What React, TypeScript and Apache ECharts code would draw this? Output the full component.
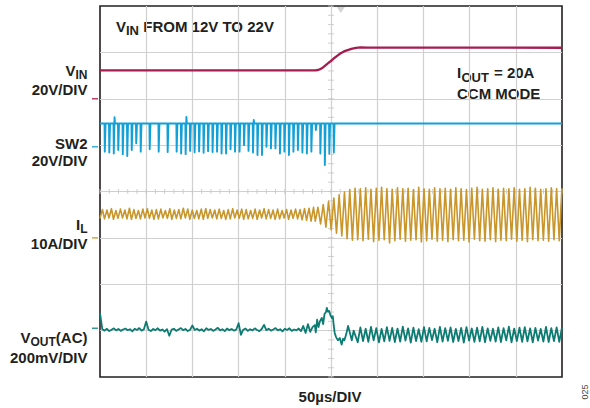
import React, { useEffect, useRef } from "react";
import * as echarts from "echarts";

// Time base: 50 µs/div, 10 divisions
const TIME_MAX = 500;
const TIME_DIV = 50;
const V_DIVS = 8;

// Channel colours
const C_VIN = "#A51C4E";
const C_SW2 = "#12A0D7";
const C_IL = "#C8962B";
const C_VOUT = "#0C7C73";
const INK = "#231F20";
const GRID_GRAY = "#d0d0d0";

// VIN (V): input step from 12 V to 22 V
const VIN_T = [0, 233, 236, 239, 242, 245, 248, 251, 254, 257, 260, 264, 268, 272, 277, 282, 290, 500];
const VIN_V = [12.2, 12.2, 12.4, 12.9, 13.7, 14.7, 15.7, 16.7, 17.7, 18.6, 19.5, 20.4, 21.0, 21.5, 21.9, 22.15, 22.05, 22.0];

// SW2 (V): high level and the low dip of each switching cycle (null = no dip captured)
const SW2_HIGH = 10.0;
const SW2_T0 = 5.2;
const SW2_PERIOD = 4.86;
const SW2_DIPS: (number | null)[] = [
  -2.1, -2.5, -2.9, -1.4, -3.2, -4.0, -1.4, 1.5, -2.1, null,
  -1.1, null, -2.1, null, -2.3, null, -2.1, -2.9, -3.2, -1.8,
  -2.4, -2.0, -2.6, -1.9, -2.3, -2.1, -2.9, -2.9, -1.1, -2.1,
  -2.1, 0.7, -1.8, -2.5, -3.6, -3.6, 0.0, -0.7, -0.7, -2.9,
  -2.1, -3.6, -2.1, -1.4, -2.5, -2.9, -2.1, 7.2, -2.9, -7.9,
  -2.9, -2.5,
];
// overshoots after a few edges: [cycle index, V]
const SW2_OVERSHOOT: [number, number][] = [[2, 12.7], [18, 12.9], [33, 11.6]];

// IL (A): before the step (boost-side switching)
const IL_PRE_T0 = 0;
const IL_PRE_PERIOD = 4.86;
const IL_PRE_PEAK = [
  6.1, 6.0, 6.3, 5.9, 6.2, 6.0, 6.4, 6.1, 5.9, 6.2, 6.3, 6.0, 6.1, 6.2, 5.9, 6.3,
  6.0, 6.1, 6.4, 6.2, 6.0, 5.9, 6.2, 6.3, 6.1, 6.0, 6.2, 5.9, 6.1, 6.3, 6.0, 6.2,
  6.1, 5.9, 6.2, 6.0, 6.3, 6.1, 6.0, 6.2, 5.9, 6.1, 6.0, 6.2, 6.1, 6.3, 6.4, 6.6,
];
const IL_PRE_VALLEY = [
  4.2, 4.1, 4.3, 4.0, 4.2, 4.3, 4.1, 4.0, 4.2, 4.1, 4.3, 4.2, 4.0, 4.1, 4.3, 4.2,
  4.0, 4.2, 4.1, 4.3, 4.0, 4.2, 4.1, 4.0, 4.2, 4.3, 4.1, 4.2, 4.0, 4.1, 4.3, 4.2,
  4.0, 4.1, 4.2, 4.0, 4.3, 4.1, 4.2, 4.0, 4.1, 4.3, 4.0, 4.2, 4.1, 3.9, 3.8, 3.6,
];
// IL (A): after the step (buck-side switching)
const POST_T0 = 233;
const POST_PERIOD = 5.74;
const IL_POST_PEAK = [
  6.6, 7.2, 7.9, 8.6, 9.3, 9.9, 10.4, 10.7,
  10.6, 10.8, 10.5, 10.7, 10.9, 10.6, 10.5, 10.8, 10.6, 10.7, 10.4, 10.9, 10.6,
  10.5, 10.8, 10.6, 10.7, 10.5, 10.8, 10.6, 10.4, 10.7, 10.9, 10.5, 10.6, 10.8,
  10.5, 10.7, 10.6, 10.8, 10.5, 10.6, 10.9, 10.7, 10.5, 10.6, 10.8, 10.6, 10.7,
];
const IL_POST_VALLEY = [
  3.6, 3.0, 2.3, 1.7, 1.0, 0.4, -0.2, -0.5,
  -0.4, -0.6, -0.3, -0.8, -0.5, -0.4, -1.1, -0.6, -0.3, -0.7, -0.5, -0.4, -0.9,
  -0.6, -0.3, -0.7, -0.5, -0.8, -0.4, -0.6, -0.5, -0.9, -0.3, -0.6, -0.7, -0.4,
  -0.8, -0.5, -0.6, -0.3, -0.7, -0.5, -0.8, -0.4, -0.6, -0.5, -0.7, -0.4, -0.6,
];

// VOUT (mV, AC coupled): samples every 2.5 µs before the step
const VOUT_PRE_DT = 2.5;
const VOUT_PRE = [
  65, -4, -10, -2, -12, -6, 0, -9, -3, -11, -5, -1, -8, -4, -13, -2, -7, 1, -10, -4,
  29, -6, -12, -3, -8, 0, -10, -5, -14, -4, -32, -6, -2, -11, -5, 1, -8, -3, -12, -6,
  12, -7, -2, -10, -4, -13, 0, -7, -3, -11, -5, 2, -9, -4, -12, -1, -8, -3, -10, -5,
  22, -28, -6, -1, -11, -4, -9, 0, -7, -12, -3, 15, -8, -2, -10, -5, 1, -9, -4, -13,
  -2, -7, 0, -11, -5, -9, -1, -12, 10, -20, 18, -15, 5,
];
// VOUT transient around the input step: [µs, mV]
const VOUT_STEP: [number, number][] = [
  [232.5, 14], [233.5, -18], [235, 37], [236.5, 5], [238, 30], [240, 45], [241.5, 18],
  [243, 62], [244.5, 70], [245.5, 88], [246.5, 72], [248, 75], [249.5, 55], [251, 44],
  [252, 52], [253, 10], [254, -20], [255.5, -38], [257.5, -52], [259.5, -42], [261.5, -70],
  [263, -45], [264.5, -52], [266.5, -25], [268.5, 10], [270.5, -20], [272.5, -52], [274.5, -10],
];
// VOUT ripple after the step, one value per switching cycle (from cycle 8)
const VOUT_POST_FIRST = 8;
const VOUT_POST_PEAK = [
  4, -2, 6, 1, -3, 5, 2, -1, 7, 0, 3, -4, 5, 2, -2, 6, 1, 4, -3, 2,
  5, -1, 3, 6, 0, -2, 4, 1, 7, -1, 3, 5, 0, 2, -3, 6, 1, 4, 2,
];
const VOUT_POST_VALLEY = [
  -60, -55, -58, -52, -61, -56, -54, -59, -57, -53, -62, -55, -58, -56, -51, -60, -57, -54, -59, -55,
  -62, -53, -58, -56, -60, -54, -57, -59, -52, -61, -55, -58, -56, -60, -53, -57, -59, -55, -58,
];

// Trigger position on the time axis (µs)
const TRIGGER_T = 260.6;

function vinData() {
  return VIN_T.map((t, i) => [t, VIN_V[i]]);
}

function sw2Data() {
  const pts: number[][] = [[0, SW2_HIGH]];
  SW2_DIPS.forEach((d, k) => {
    if (d === null) return;
    const t = SW2_T0 + k * SW2_PERIOD;
    const over = SW2_OVERSHOOT.find((o) => o[0] === k);
    pts.push([t - 0.3, SW2_HIGH], [t, d], [t + 0.5, d], [t + 0.8, over ? over[1] : SW2_HIGH], [t + 1.3, SW2_HIGH]);
  });
  pts.push([TIME_MAX, SW2_HIGH]);
  return pts;
}

function ilData() {
  const pts: number[][] = [];
  IL_PRE_PEAK.forEach((p, k) => {
    const t = IL_PRE_T0 + k * IL_PRE_PERIOD;
    pts.push([t, IL_PRE_VALLEY[k]], [t + 0.55 * IL_PRE_PERIOD, p]);
  });
  IL_POST_PEAK.forEach((p, j) => {
    const t = POST_T0 + j * POST_PERIOD;
    pts.push([t, IL_POST_VALLEY[j]], [t + 0.5 * POST_PERIOD, p]);
  });
  return pts;
}

function voutData() {
  const pts: number[][] = VOUT_PRE.map((v, i) => [i * VOUT_PRE_DT, v]);
  VOUT_STEP.forEach((p) => pts.push([p[0], p[1]]));
  VOUT_POST_PEAK.forEach((p, i) => {
    const t = POST_T0 + (VOUT_POST_FIRST + i) * POST_PERIOD;
    pts.push([t, VOUT_POST_VALLEY[i]], [t + 0.5 * POST_PERIOD, p]);
  });
  return pts;
}

// minor ticks along the centre crosshair
function crossTicksH() {
  const out: number[][] = [];
  for (let t = 0; t <= TIME_MAX; t += TIME_DIV / 5) out.push([t, V_DIVS / 2]);
  return out;
}
function crossTicksV() {
  const out: number[][] = [];
  for (let d = 0; d <= V_DIVS + 1e-6; d += 0.2) out.push([TIME_MAX / 2, d]);
  return out;
}

const FONT = '"Liberation Sans", Arial, sans-serif';

function txt(text: string, x: number, y: number, size: number, align: string = "left") {
  return {
    type: "text",
    silent: true,
    style: {
      text,
      x,
      y,
      fill: INK,
      fontFamily: FONT,
      fontWeight: "bold",
      fontSize: size,
      align,
      verticalAlign: "middle",
    },
  };
}

function marker(color: string, yAxisIndex: number) {
  return {
    type: "scatter",
    yAxisIndex,
    clip: false,
    silent: true,
    symbol: "rect",
    symbolSize: [6, 1.6],
    symbolOffset: [-5, 0],
    itemStyle: { color },
    data: [[0, 0]],
    z: 5,
  };
}

function trace(color: string, yAxisIndex: number, data: number[][], width: number) {
  return {
    type: "line",
    yAxisIndex,
    data,
    showSymbol: false,
    symbol: "none",
    silent: true,
    lineStyle: { color, width, join: "round" },
    z: 4,
  };
}

function buildOption() {
  const hiddenY = (min: number, max: number) => ({
    type: "value",
    min,
    max,
    show: false,
    splitLine: { show: false },
  });
  return {
    animation: false,
    backgroundColor: "#ffffff",
    grid: {
      left: 100,
      top: 6,
      right: 28,
      bottom: 31,
      show: true,
      borderColor: INK,
      borderWidth: 1.6,
      backgroundColor: "transparent",
    },
    xAxis: {
      type: "value",
      min: 0,
      max: TIME_MAX,
      interval: TIME_DIV,
      axisLine: { show: false },
      axisTick: { show: false },
      axisLabel: { show: false },
      splitLine: { show: true, showMinLine: false, showMaxLine: false, lineStyle: { color: GRID_GRAY, width: 1.2 } },
    },
    yAxis: [
      {
        type: "value",
        min: 0,
        max: V_DIVS,
        interval: 1,
        axisLine: { show: false },
        axisTick: { show: false },
        axisLabel: { show: false },
        splitLine: { show: true, showMinLine: false, showMaxLine: false, lineStyle: { color: GRID_GRAY, width: 1.2 } },
      },
      hiddenY(-120, 40), // VIN, 20 V/div
      hiddenY(-99.3, 60.7), // SW2, 20 V/div
      hiddenY(-30, 50), // IL, 10 A/div
      hiddenY(-210, 1390), // VOUT, 200 mV/div
    ],
    series: [
      {
        type: "scatter",
        yAxisIndex: 0,
        silent: true,
        symbol: "rect",
        symbolSize: [1, 5],
        itemStyle: { color: "#c4c4c4" },
        data: crossTicksH(),
        z: 1,
      },
      {
        type: "scatter",
        yAxisIndex: 0,
        silent: true,
        symbol: "rect",
        symbolSize: [6, 1],
        itemStyle: { color: "#c4c4c4" },
        data: crossTicksV(),
        z: 1,
      },
      {
        type: "scatter",
        yAxisIndex: 0,
        silent: true,
        clip: false,
        symbol: "triangle",
        symbolRotate: 180,
        symbolSize: [8, 6],
        symbolOffset: [0, 4],
        itemStyle: { color: "#c8c8c8" },
        data: [[TRIGGER_T, V_DIVS]],
        z: 1,
      },
      trace(C_VIN, 1, vinData(), 2.3),
      trace(C_SW2, 2, sw2Data(), 1.9),
      trace(C_IL, 3, ilData(), 1.6),
      trace(C_VOUT, 4, voutData(), 1.8),
      marker(C_VIN, 1),
      marker(C_SW2, 2),
      marker(C_IL, 3),
      marker(C_VOUT, 4),
    ],
    graphic: [
      // title
      txt("V", 116, 26, 15),
      txt("IN", 126, 30.5, 13),
      txt("FROM 12V TO 22V", 143.3, 26, 15),
      // load annotation
      txt("I", 457, 72.5, 15),
      txt("OUT", 461.5, 77, 13),
      txt("= 20A", 494, 72.5, 15),
      txt("CCM MODE", 457, 93.5, 15),
      // channel labels
      txt("V", 75.5, 70.5, 15, "right"),
      txt("IN", 87.5, 75, 12, "right"),
      txt("20V/DIV", 87.5, 89.5, 15, "right"),
      txt("SW2", 87.5, 143.5, 15, "right"),
      txt("20V/DIV", 87.5, 160.5, 15, "right"),
      txt("I", 80.2, 224, 15, "right"),
      txt("L", 87.5, 228.5, 12, "right"),
      txt("10A/DIV", 87.5, 243, 15, "right"),
      txt("V", 30.5, 337.5, 15, "right"),
      txt("OUT", 55.8, 342, 12, "right"),
      txt("(AC)", 87.5, 337.5, 15, "right"),
      txt("200mV/DIV", 87.5, 357.5, 15, "right"),
      // time base
      txt("50\u00b5s/DIV", 330, 396.5, 15, "center"),
      {
        type: "text",
        silent: true,
        x: 585,
        y: 392,
        rotation: Math.PI / 2,
        style: {
          text: "025",
          x: 0,
          y: 0,
          fill: "#444",
          fontFamily: FONT,
          fontSize: 9,
          align: "center",
          verticalAlign: "middle",
        },
      },
    ],
  };
}

export default function App() {
  const ref = useRef<HTMLDivElement>(null);
  useEffect(() => {
    if (!ref.current) return;
    const chart = echarts.init(ref.current, undefined, { renderer: "svg" });
    chart.setOption(buildOption() as any);
    return () => chart.dispose();
  }, []);
  return (
    <div
      ref={ref}
      style={{ position: "fixed", left: 0, top: 0, width: 590, height: 408, background: "#ffffff" }}
    />
  );
}
